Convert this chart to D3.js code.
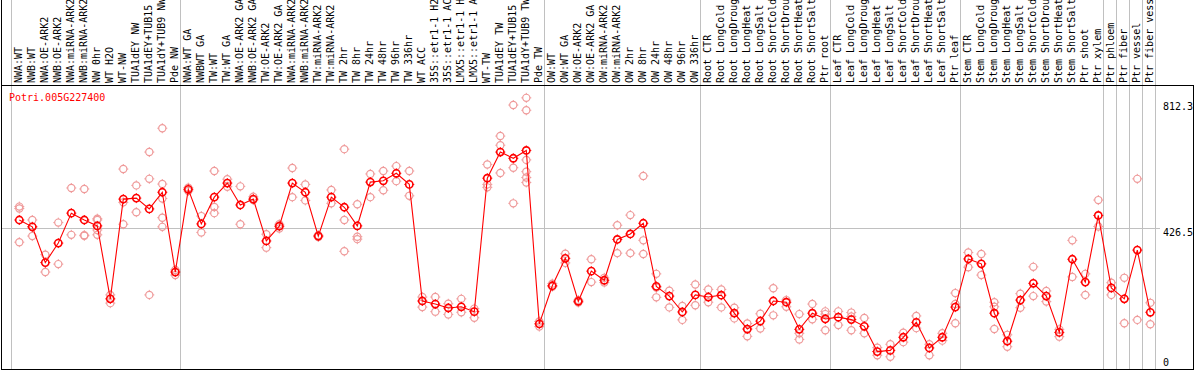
<!DOCTYPE html>
<html>
<head>
<meta charset="utf-8">
<script src="https://cdn.jsdelivr.net/npm/d3@7"></script>
<style>
  html, body { margin: 0; padding: 0; background: #fff; }
  svg { display: block; }
  text { font-family: "DejaVu Sans Mono", monospace; font-size: 10px; }
</style>
</head>
<body>
<svg id="chart" width="1194" height="370"></svg>
<script>
const geneId = "Potri.005G227400";

const categories = [
  "NWA:WT","NWB:WT","NWA:OE-ARK2","NWB:OE-ARK2","NWA:miRNA-ARK2","NWB:miRNA-ARK2","NW 0hr","WT H2O","WT-NW","TUA1dEY NW","TUA1dEY+TUB15","TUA1dY+TUB9 NW","Pde NW",
  "NWA:WT GA","NWBWT GA","TW:WT","TW:WT GA","NWA:OE-ARK2 GA","NWB:OE-ARK2 GA","TW:OE-ARK2","TW:OE-ARK2 GA","NWA:miRNA-ARK2","NWB:miRNA-ARK2","TW:miRNA-ARK2","TW:miRNA-ARK2",
  "TW 2hr","TW 8hr","TW 24hr","TW 48hr","TW 96hr","TW 336hr","WT ACC","35S::etr1-1 H2","35S::etr1-1 AC","LMX5::etr1-1 H","LMX5::etr1-1 A","WT-TW","TUA1dEY TW","TUA1dEY+TUB15","TUA1dY+TUB9 TW","Pde TW",
  "OW:WT","OW:WT GA","OW:OE-ARK2","OW:OE-ARK2 GA","OW:miRNA-ARK2","OW:miRNA-ARK2","OW 2hr","OW 8hr","OW 24hr","OW 48hr","OW 96hr","OW 336hr",
  "Root CTR","Root LongCold","Root LongDroug","Root LongHeat","Root LongSalt","Root ShortCold","Root ShortDrou","Root ShortHeat","Root ShortSalt","Ptr root",
  "Leaf CTR","Leaf LongCold","Leaf LongDroug","Leaf LongHeat","Leaf LongSalt","Leaf ShortCold","Leaf ShortDrou","Leaf ShortHeat","Leaf ShortSalt","Ptr leaf",
  "Stem CTR","Stem LongCold","Stem LongDroug","Stem LongHeat","Stem LongSalt","Stem ShortCold","Stem ShortDrou","Stem ShortHeat","Stem ShortSalt","Ptr shoot","Ptr xylem",
  "Ptr phloem","Ptr fiber","Ptr vessel","Ptr fiber vess"
];

// number of columns in each group separated by vertical grid lines
const groupSizes = [13, 28, 12, 10, 10, 11, 1, 1, 1, 1];

const meanValues = [
  451,430,313,377,472,451,433,194,515,518,485,536,282,
  545,439,521,564,497,515,384,432,564,536,400,521,
  490,433,567,571,594,560,187,177,164,168,152,579,659,640,664,112,
  237,327,186,285,255,389,407,441,235,203,151,207,
  200,206,147,95,121,187,183,94,147,128,
  134,126,104,21,25,68,117,33,68,167,
  325,309,147,55,190,245,203,84,324,249,465,
  230,194,354,150
];

const replicateValues = [
  [492,486,380],[451,430,400],[339,282],[443,308],[549,404],[546,401,403],[455,451,420,404],[207,180],[607,505,438],[557,475],[659,577,207],[732,561,517,458,430],[289,272],
  [540,550],[463,412],[601,491,472],[576,553],[554,438],[522,512],[406,362],[425,438],[610,521],[560,511],[403,397],[543,502],
  [668,451,350],[499,398,390],[592,521],[601,542],[616,570],[601,525],[200,167],[200,152],[178,143],[194,150],[162,132],[621,560,551],[708,680,595],[803,611,502],[825,787,635,599,581,566],[120,103],
  [244,234],[342,312],[190,182],[324,249],[263,248],[435,344],[466,344],[586,386,341],[276,231,199],[221,166],[171,125],[241,173],
  [225,183],[225,166],[165,130],[113,71],[145,97],[229,140],[190,168],[144,81,61],[177,127],[153,144,91],
  [153,108],[149,136,91],[131,81],[34,9],[45,4],[83,52],[138,98],[45,9],[81,57],[213,177,114],
  [346,298],[341,272],[183,168,95],[76,37],[211,165],[299,203],[220,185],[94,70],[386,266],[276,207],[512,431],
  [247,207],[263,114],[577,125],[181,111]
];

const yTickValues = [0, 426.5, 812.3];
const yTickLabels = ["0", "426.5", "812.3"];

const W = 1194, H = 370;
const svg = d3.select("#chart");

const idx = d3.range(categories.length);
const x = d3.scaleBand().domain(idx).range([11, 1155]).paddingInner(0).paddingOuter(0);
const px = i => x(i) + 8.3;
const y = d3.scaleLinear().domain(yTickValues).range([358, 228, 102]);

svg.append("rect").attr("x", 0).attr("y", 0).attr("width", W).attr("height", H).attr("fill", "#fff");

// vertical grid lines at group boundaries
const boundaries = [0];
groupSizes.forEach(s => boundaries.push(boundaries[boundaries.length - 1] + s));
const bx = i => Math.floor(i < categories.length ? x(i) : x(categories.length - 1) + x.bandwidth()) + 0.5;
svg.append("g").selectAll("line").data(boundaries).join("line")
  .attr("x1", bx).attr("x2", bx)
  .attr("y1", 0).attr("y2", H)
  .attr("stroke", "#c0c0c0").attr("stroke-width", 1);

// horizontal mid grid line
svg.append("line")
  .attr("x1", 1).attr("x2", 1160)
  .attr("y1", Math.round(y(yTickValues[1])) + 0.5).attr("y2", Math.round(y(yTickValues[1])) + 0.5)
  .attr("stroke", "#c0c0c0").attr("stroke-width", 1);

// borders
svg.append("line").attr("x1", 1.5).attr("x2", 1.5).attr("y1", 0).attr("y2", H).attr("stroke", "#000");
svg.append("line").attr("x1", 1193.5).attr("x2", 1193.5).attr("y1", 85).attr("y2", H).attr("stroke", "#000");
svg.append("line").attr("x1", 1).attr("x2", W).attr("y1", 85.5).attr("y2", 85.5).attr("stroke", "#000");
svg.append("line").attr("x1", 1).attr("x2", W).attr("y1", 369.5).attr("y2", 369.5).attr("stroke", "#000");

// column labels
svg.append("g").selectAll("text").data(idx).join("text")
  .attr("transform", i => `translate(${px(i)},83) rotate(-90)`)
  .attr("dy", 3)
  .attr("fill", "#000")
  .text(i => categories[i]);

// y labels
svg.append("g").selectAll("text").data(yTickValues).join("text")
  .attr("x", 1163)
  .attr("y", v => y(v) + 8.3)
  .attr("fill", "#000")
  .text((v, i) => yTickLabels[i]);

// title
svg.append("text").attr("x", 9).attr("y", 100.5).attr("fill", "#ff0000").text(geneId);

// replicate points
const reps = [];
idx.forEach(i => replicateValues[i].forEach(v => reps.push({i, v})));
const marker = (g, color, sw) => {
  g.append("circle").attr("r", 3.6).attr("fill", "none").attr("stroke", color).attr("stroke-width", sw);
  g.append("path").attr("d", "M0,-5V-3.6M0,3.6V5M-5,0H-3.6M3.6,0H5").attr("stroke", color).attr("stroke-width", 1);
};
svg.append("g").selectAll("g").data(reps).join("g")
  .attr("transform", d => `translate(${px(d.i)},${y(d.v)})`)
  .each(function() { marker(d3.select(this), "#ef9a9a", 1.2); });

// mean line
svg.append("path")
  .datum(idx.map(i => [px(i), y(meanValues[i])]))
  .attr("d", d3.line())
  .attr("fill", "none").attr("stroke", "#ff0000").attr("stroke-width", 1.1);

// mean markers
svg.append("g").selectAll("g").data(idx).join("g")
  .attr("transform", i => `translate(${px(i)},${y(meanValues[i])})`)
  .each(function() { marker(d3.select(this), "#ff0000", 1.6); });
</script>
</body>
</html>
